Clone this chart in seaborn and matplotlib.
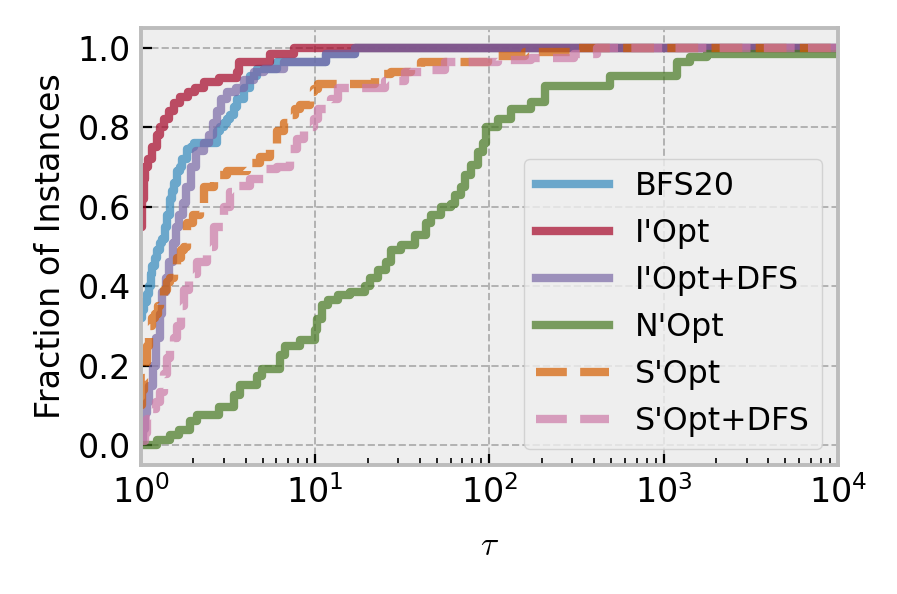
import matplotlib
matplotlib.use("Agg")
import matplotlib.pyplot as plt
import seaborn as sns
import pandas as pd

plt.style.use("bmh")

labels = ["BFS20", "I'Opt", "I'Opt+DFS", "N'Opt", "S'Opt", "S'Opt+DFS"]
colors = ["#348ABD", "#A60628", "#7A68A6", "#467821", "#D55E00", "#CC79A7"]
styles = ["-", "-", "-", "-", "--", "--"]

# performance profile breakpoints (tau, fraction), drawn as steps
tau_bfs = [1.0, 1.02, 1.047, 1.08, 1.118, 1.14, 1.163, 1.2, 1.243, 1.29, 1.327, 1.37, 1.42,
           1.474, 1.51, 1.553, 1.617, 1.68, 1.73, 1.844, 1.95, 2.02, 2.735, 2.85, 3.0, 3.12,
           3.25, 3.42, 3.56, 3.9, 4.22, 4.63, 6.03, 11.5, 17.0, 10000]
frac_bfs = [0.32, 0.34, 0.36, 0.38, 0.40, 0.43, 0.45, 0.47, 0.49, 0.51, 0.52, 0.55, 0.58,
            0.62, 0.64, 0.66, 0.69, 0.70, 0.72, 0.745, 0.75, 0.76, 0.79, 0.80, 0.81, 0.82,
            0.83, 0.85, 0.87, 0.90, 0.93, 0.946, 0.963, 0.985, 1.0, 1.0]

tau_iopt = [1.0, 1.02, 1.04, 1.06, 1.10, 1.16, 1.24, 1.29, 1.36, 1.45, 1.55, 1.68, 1.87,
            2.05, 2.3, 2.8, 3.56, 3.65, 5.5, 7.54, 10000]
frac_iopt = [0.55, 0.62, 0.67, 0.70, 0.72, 0.75, 0.78, 0.80, 0.82, 0.84, 0.86, 0.877, 0.89,
             0.90, 0.914, 0.925, 0.94, 0.963, 0.985, 1.0, 1.0]

tau_idfs = [1.0, 1.03, 1.06, 1.09, 1.12, 1.17, 1.23, 1.28, 1.33, 1.39, 1.455, 1.52, 1.6,
            1.66, 1.74, 1.82, 1.95, 2.07, 2.3, 2.45, 2.6, 2.75, 2.9, 3.12, 3.5, 3.9, 4.45,
            5.08, 6.61, 11.5, 17.0, 10000]
frac_idfs = [0.01, 0.04, 0.08, 0.11, 0.15, 0.20, 0.27, 0.33, 0.385, 0.42, 0.46, 0.51, 0.55,
             0.58, 0.61, 0.65, 0.70, 0.74, 0.76, 0.78, 0.81, 0.84, 0.87, 0.89, 0.90, 0.92, 0.94,
             0.946, 0.963, 0.985, 1.0, 1.0]

tau_nopt = [1.0, 1.243, 1.474, 1.66, 1.92, 2.1, 2.81, 3.42, 3.7, 4.63, 4.95, 6.27, 6.69,
            8.15, 10.0, 10.3, 10.9, 11.9, 13.6, 15.95, 19.4, 20.7, 23.0, 25.6, 27.4, 31.2,
            37.5, 43.4, 46.3, 52.8, 60.3, 63.5, 68.7, 72.4, 78.3, 85.9, 91.8, 96.0, 112,
            133, 173, 208, 494, 1194, 1416, 1773, 10000]
frac_nopt = [0.0, 0.013, 0.025, 0.038, 0.06, 0.075, 0.097, 0.126, 0.151, 0.173, 0.193,
             0.226, 0.25, 0.264, 0.29, 0.318, 0.352, 0.365, 0.377, 0.386, 0.40, 0.42, 0.44,
             0.46, 0.49, 0.503, 0.528, 0.56, 0.58, 0.60, 0.607, 0.63, 0.65, 0.68, 0.704,
             0.738, 0.76, 0.80, 0.82, 0.847, 0.864, 0.905, 0.93, 0.965, 0.978, 0.985, 0.985]

tau_sopt = [1.0, 1.02, 1.047, 1.07, 1.089, 1.11, 1.133, 1.16, 1.2, 1.25, 1.292, 1.362, 1.42,
            1.474, 1.54, 1.617, 1.7, 1.773, 1.844, 2.0, 2.188, 2.305, 2.63, 3.12, 4.06, 4.82,
            5.5, 6.03, 6.6, 7.15, 7.7, 8.15, 9.3, 9.8, 10.46, 22.2, 27.4, 35.6, 40.6, 98,
            160, 320, 10000]
frac_sopt = [0.10, 0.14, 0.17, 0.21, 0.25, 0.28, 0.30, 0.32, 0.33, 0.35, 0.36, 0.39, 0.41,
             0.42, 0.45, 0.47, 0.49, 0.50, 0.56, 0.58, 0.60, 0.65, 0.68, 0.69, 0.71, 0.725,
             0.75, 0.79, 0.81, 0.83, 0.845, 0.855, 0.89, 0.897, 0.91, 0.935, 0.94, 0.95,
             0.963, 0.98, 0.99, 1.0, 1.0]

tau_sdfs = [1.0, 1.05, 1.09, 1.15, 1.22, 1.29, 1.36, 1.417, 1.474, 1.55, 1.617, 1.7, 1.773,
            1.9, 2.1, 2.4, 2.63, 3.0, 3.25, 3.65, 4.22, 5.08, 6.03, 7.15, 7.84, 8.6, 9.8,
            10.46, 12.4, 13.6, 25.3, 32.9, 42.8, 55.7, 112, 173, 308, 417, 10000]
frac_sdfs = [0.01, 0.03, 0.067, 0.09, 0.11, 0.134, 0.18, 0.22, 0.243, 0.27, 0.30, 0.35,
             0.39, 0.43, 0.46, 0.50, 0.55, 0.60, 0.637, 0.653, 0.67, 0.695, 0.70, 0.746,
             0.77, 0.80, 0.82, 0.847, 0.87, 0.90, 0.917, 0.94, 0.943, 0.963, 0.97, 0.975,
             0.985, 1.0, 1.0]

taus = [tau_bfs, tau_iopt, tau_idfs, tau_nopt, tau_sopt, tau_sdfs]
fracs = [frac_bfs, frac_iopt, frac_idfs, frac_nopt, frac_sopt, frac_sdfs]

fig, ax = plt.subplots(figsize=(8.97 / 2, 5.94 / 2), dpi=200)
fig.subplots_adjust(left=0.157, right=0.934, top=0.953, bottom=0.217)

for lab, col, ls, t, f in zip(labels, colors, styles, taus, fracs):
    df = pd.DataFrame({"tau": t, "frac": f})
    sns.lineplot(data=df, x="tau", y="frac", ax=ax, color=col, linestyle=ls,
                 linewidth=3, alpha=0.7, label=lab, estimator=None, sort=False,
                 drawstyle="steps-post")

ax.set_xscale("log")
ax.set_xlim(1, 1e4)
ax.set_ylim(-0.05, 1.05)
ax.set_yticks([0.0, 0.2, 0.4, 0.6, 0.8, 1.0])
ax.set_xlabel(r"$\tau$", fontsize=12, labelpad=7)
ax.set_ylabel("Fraction of Instances", fontsize=12)
ax.tick_params(axis="both", which="major", labelsize=12, length=4, color="black")
ax.tick_params(axis="x", which="minor", length=2.5, color="black")
for sp in ax.spines.values():
    sp.set_linewidth(1.4)
    sp.set_color("#bcbcbc")
ax.grid(True, which="major", linestyle="--", color="#b2b2b2", linewidth=0.7)

ax.legend(loc="lower right", fontsize=11.4, handlelength=2.3)

fig.savefig("out.png", dpi=200)
